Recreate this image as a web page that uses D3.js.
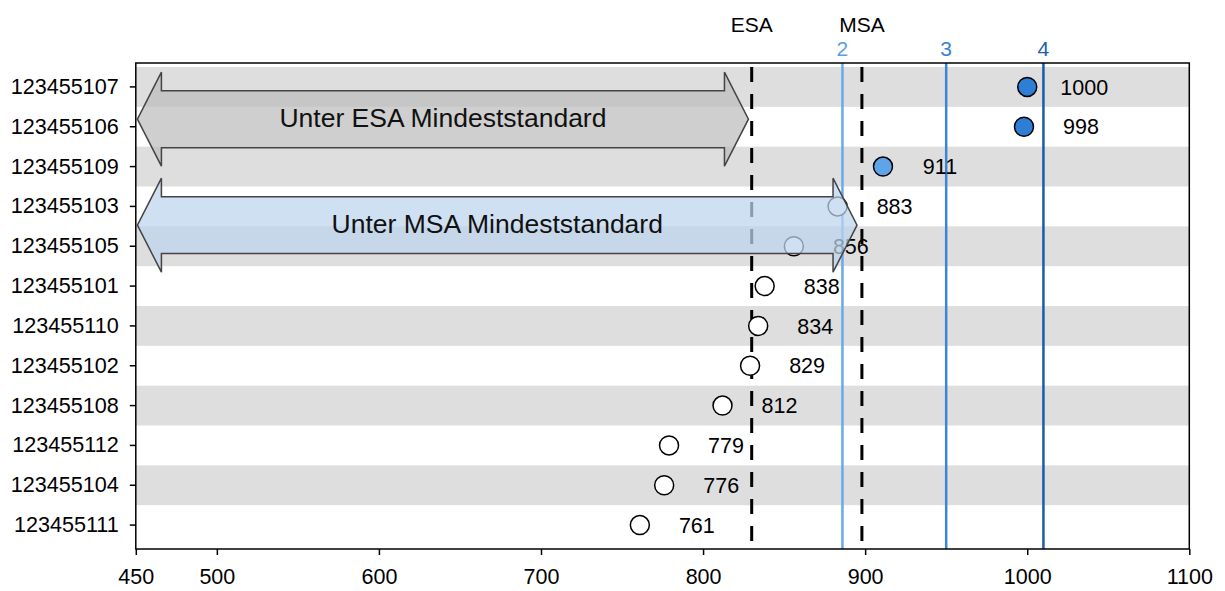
<!DOCTYPE html>
<html>
<head>
<meta charset="utf-8">
<script src="https://cdn.jsdelivr.net/npm/d3@7"></script>
<style>
  body { margin: 0; background: #fff; }
  svg { display: block; font-family: "Liberation Sans", Arial, sans-serif; }
</style>
</head>
<body>
<svg id="chart" width="1225" height="591"></svg>
<script>
// ---- data ----
const schools = ["123455107","123455106","123455109","123455103","123455105","123455101",
                 "123455110","123455102","123455108","123455112","123455104","123455111"];
const scores  = [1000, 998, 911, 883, 856, 838, 834, 829, 812, 779, 776, 761];
const xTicks  = [450, 500, 600, 700, 800, 900, 1000, 1100];
const standardNames  = ["ESA", "MSA"];
const standardValues = [830, 898];
const levelNames  = ["2", "3", "4"];
const levelValues = [886, 950, 1010];
const arrowLabels = ["Unter ESA Mindeststandard", "Unter MSA Mindeststandard"];
const arrowFrom   = [451, 451];
const arrowTo     = [828, 895];
const arrowRow    = [0.81, 3.47]; // fractional row index of arrow centre

// ---- layout / style ----
const W = 1225, H = 591;
const m = { left: 135.8, right: 1189.3, top: 63, bottom: 549 };
const levelColors = ["#6aa8ec", "#3a85d4", "#1a5ca8"];
const levelText   = ["#5b9fe0", "#3a82d0", "#1a5fb0"];
const fillLevel   = ["#ffffff", "#5fa3e8", "#2f7ed6", "#1a5ca8"];

const svg = d3.select("#chart");

const x = d3.scaleLinear().domain([450, 1100]).range([m.left, m.right]);
const y = d3.scaleBand().domain(schools).range([m.top + 4, m.bottom - 4]).padding(0);
const bw = y.bandwidth();
const rowPos = r => y.range()[0] + (r + 0.5) * bw;

// bands
svg.append("g").selectAll("rect")
  .data(schools.filter((d, i) => i % 2 === 0))
  .join("rect")
  .attr("x", m.left).attr("width", m.right - m.left)
  .attr("y", d => y(d)).attr("height", bw)
  .attr("fill", "#dedede");

// level lines
levelValues.forEach((v, i) => {
  svg.append("line")
    .attr("x1", x(v)).attr("x2", x(v))
    .attr("y1", m.top).attr("y2", m.bottom)
    .attr("stroke", levelColors[i]).attr("stroke-width", 2.5);
  svg.append("text")
    .attr("x", x(v)).attr("y", 56)
    .attr("text-anchor", "middle")
    .attr("font-size", 21)
    .attr("fill", levelText[i])
    .text(levelNames[i]);
});

// standard dashed lines
standardValues.forEach((v, i) => {
  svg.append("line")
    .attr("x1", x(v)).attr("x2", x(v))
    .attr("y1", m.top + 4).attr("y2", m.bottom)
    .attr("stroke", "#000").attr("stroke-width", 3)
    .attr("stroke-dasharray", "15,12");
  svg.append("text")
    .attr("x", x(v)).attr("y", 32)
    .attr("text-anchor", "middle")
    .attr("font-size", 21)
    .attr("fill", "#000")
    .text(standardNames[i]);
});

// points
function levelOf(v) {
  let l = 0;
  levelValues.forEach(t => { if (v >= t) l++; });
  return l;
}
const pts = svg.append("g");
schools.forEach((s, i) => {
  const cx = x(scores[i]), cy = y(s) + bw / 2;
  pts.append("circle")
    .attr("cx", cx).attr("cy", cy).attr("r", 9.5)
    .attr("fill", fillLevel[levelOf(scores[i])])
    .attr("stroke", "#000").attr("stroke-width", 1.5);
  pts.append("text")
    .attr("x", cx + 57).attr("y", cy).attr("dy", "0.36em")
    .attr("text-anchor", "middle")
    .attr("font-size", 21.5)
    .text(scores[i]);
});

// arrows
const arrowFills = ["#bdbdbd", "#bdd4ed"];
arrowLabels.forEach((lab, i) => {
  const x0 = x(arrowFrom[i]), x1 = x(arrowTo[i]);
  const cy = rowPos(arrowRow[i]);
  const hl = 24, hh = 1.18 * bw, bh = 0.715 * bw;
  const p = d3.path();
  p.moveTo(x0, cy);
  p.lineTo(x0 + hl, cy - hh);
  p.lineTo(x0 + hl, cy - bh);
  p.lineTo(x1 - hl, cy - bh);
  p.lineTo(x1 - hl, cy - hh);
  p.lineTo(x1, cy);
  p.lineTo(x1 - hl, cy + hh);
  p.lineTo(x1 - hl, cy + bh);
  p.lineTo(x0 + hl, cy + bh);
  p.lineTo(x0 + hl, cy + hh);
  p.closePath();
  svg.append("path")
    .attr("d", p.toString())
    .attr("fill", arrowFills[i]).attr("fill-opacity", 0.73)
    .attr("stroke", "#444").attr("stroke-width", 1.5)
    .attr("stroke-linejoin", "miter");
  svg.append("text")
    .attr("x", (x0 + x1) / 2).attr("y", cy).attr("dy", "0.3em")
    .attr("text-anchor", "middle")
    .attr("font-size", 26.5)
    .attr("fill", "#111")
    .text(lab);
});

// axes
const xAxis = svg.append("g")
  .attr("transform", `translate(0,${m.bottom})`)
  .call(d3.axisBottom(x).tickValues(xTicks).tickSize(6).tickPadding(14).tickFormat(d3.format("d")));
xAxis.select(".domain").remove();
xAxis.selectAll("line").attr("stroke", "#000").attr("stroke-width", 1.5);
xAxis.selectAll("text").attr("font-size", 21.5).attr("fill", "#000").attr("font-family", "Liberation Sans, Arial, sans-serif");

const yAxis = svg.append("g")
  .attr("transform", `translate(${m.left},0)`)
  .call(d3.axisLeft(y).tickSize(6).tickPadding(11));
yAxis.select(".domain").remove();
yAxis.selectAll("line").attr("stroke", "#000").attr("stroke-width", 1.5);
yAxis.selectAll("text").attr("font-size", 21.6).attr("fill", "#000").attr("font-family", "Liberation Sans, Arial, sans-serif");

// frame
svg.append("rect")
  .attr("x", m.left).attr("y", m.top)
  .attr("width", m.right - m.left).attr("height", m.bottom - m.top)
  .attr("fill", "none").attr("stroke", "#000").attr("stroke-width", 1.5);
</script>
</body>
</html>
